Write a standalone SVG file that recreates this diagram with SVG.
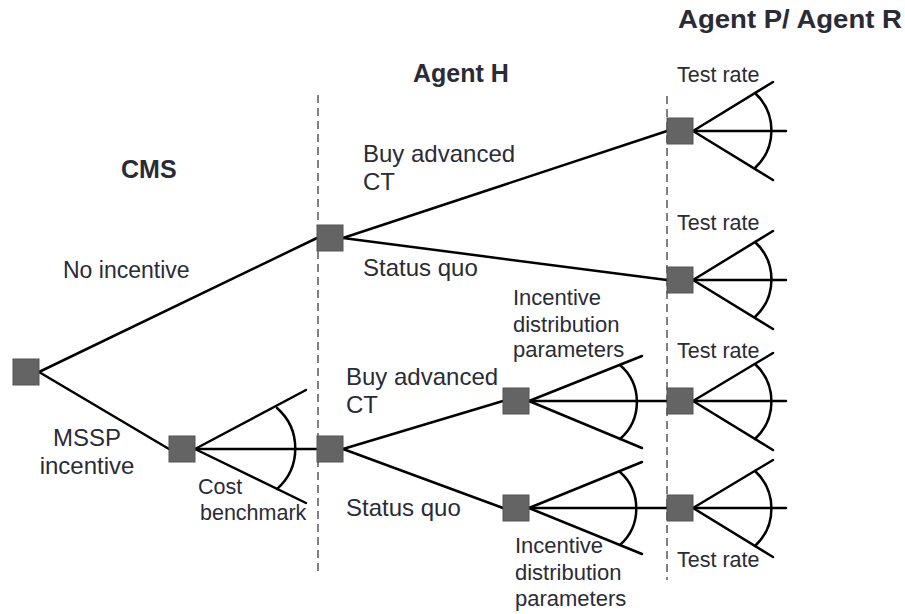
<svg xmlns="http://www.w3.org/2000/svg" width="905" height="614" viewBox="0 0 905 614">
  <style>
    text { font-family: "Liberation Sans", Arial, sans-serif; fill: #2b2b36; }
    .title { font-weight: bold; font-size: 25px; }
    .lbl { font-size: 24px; }
    .mid { font-size: 23px; }
    .sm { font-size: 22px; }
    .xs { font-size: 21.5px; }
    .node { fill: #646464; stroke: #545454; stroke-width: 1; }
    .edge { stroke: #000; stroke-width: 2.5; fill: none; stroke-linecap: round; }
    .div { stroke: #808080; stroke-width: 2; stroke-dasharray: 8 5; fill: none; }
  </style>
  <rect width="905" height="614" fill="#fff"/>

  <!-- stage dividers -->
  <g id="dividers">
    <line class="div" x1="318" y1="95" x2="318" y2="572"/>
    <line class="div" x1="667" y1="96" x2="667" y2="580"/>
  </g>

  <!-- stage titles -->
  <g id="titles">
    <text class="title" x="678" y="28" textLength="224" lengthAdjust="spacingAndGlyphs">Agent P/ Agent R</text>
    <text class="title" x="413" y="82">Agent H</text>
    <text class="title" x="121" y="178">CMS</text>
  </g>

  <g id="connectors">
    <!-- CMS decision -->
    <line class="edge" x1="39" y1="372" x2="317" y2="238"/>
    <line class="edge" x1="39" y1="372" x2="169" y2="449"/>
    <!-- cost benchmark fan -->
    <line class="edge" x1="195" y1="449" x2="306" y2="390"/>
    <line class="edge" x1="195" y1="449" x2="317" y2="449"/>
    <line class="edge" x1="195" y1="449" x2="306" y2="503"/>
    <path class="edge" d="M277,408 A54,54 0 0 1 277,489"/>
    <!-- Agent H, no incentive -->
    <line class="edge" x1="343" y1="238" x2="667" y2="131"/>
    <line class="edge" x1="343" y1="238" x2="667" y2="280"/>
    <!-- Agent H, MSSP incentive -->
    <line class="edge" x1="343" y1="449" x2="503" y2="401"/>
    <line class="edge" x1="343" y1="449" x2="503" y2="508"/>
    <!-- incentive distribution fans -->
    <line class="edge" x1="529" y1="401" x2="642" y2="356"/>
    <line class="edge" x1="529" y1="401" x2="667" y2="401"/>
    <line class="edge" x1="529" y1="401" x2="642" y2="448"/>
    <path class="edge" d="M620,365 A49,49 0 0 1 620,439"/>
    <line class="edge" x1="529" y1="508" x2="642" y2="462"/>
    <line class="edge" x1="529" y1="508" x2="667" y2="508"/>
    <line class="edge" x1="529" y1="508" x2="642" y2="554"/>
    <path class="edge" d="M620,472 A49,49 0 0 1 620,545"/>
    <!-- test rate fans -->
    <line class="edge" x1="693" y1="131" x2="773" y2="82"/>
    <line class="edge" x1="693" y1="131" x2="786" y2="131"/>
    <line class="edge" x1="693" y1="131" x2="773" y2="180"/>
    <path class="edge" d="M755,93 A51,51 0 0 1 755,168"/>
    <line class="edge" x1="693" y1="280" x2="773" y2="231"/>
    <line class="edge" x1="693" y1="280" x2="786" y2="280"/>
    <line class="edge" x1="693" y1="280" x2="773" y2="329"/>
    <path class="edge" d="M755,242 A51,51 0 0 1 755,317"/>
    <line class="edge" x1="693" y1="401" x2="773" y2="353"/>
    <line class="edge" x1="693" y1="401" x2="786" y2="401"/>
    <line class="edge" x1="693" y1="401" x2="773" y2="450"/>
    <path class="edge" d="M755,364 A51,51 0 0 1 755,439"/>
    <line class="edge" x1="693" y1="508" x2="773" y2="460"/>
    <line class="edge" x1="693" y1="508" x2="786" y2="508"/>
    <line class="edge" x1="693" y1="508" x2="773" y2="557"/>
    <path class="edge" d="M755,471 A51,51 0 0 1 755,546"/>
  </g>

  <g id="cms"><rect class="node" x="13" y="359" width="26" height="26"/></g>
  <g id="cost"><rect class="node" x="169" y="436" width="26" height="26"/></g>
  <g id="h-no-incentive"><rect class="node" x="317" y="225" width="26" height="26"/></g>
  <g id="h-mssp"><rect class="node" x="317" y="436" width="26" height="26"/></g>
  <g id="dist-buy"><rect class="node" x="503" y="388" width="26" height="26"/></g>
  <g id="dist-quo"><rect class="node" x="503" y="495" width="26" height="26"/></g>
  <g id="p1"><rect class="node" x="667" y="118" width="26" height="26"/></g>
  <g id="p2"><rect class="node" x="667" y="267" width="26" height="26"/></g>
  <g id="p3"><rect class="node" x="667" y="388" width="26" height="26"/></g>
  <g id="p4"><rect class="node" x="667" y="495" width="26" height="26"/></g>

  <g id="labels">
    <text class="mid" x="63" y="278">No incentive</text>
    <text class="lbl" x="87" y="446" text-anchor="middle">MSSP</text>
    <text class="lbl" x="87" y="474" text-anchor="middle">incentive</text>
    <text class="xs" x="198" y="494">Cost</text>
    <text class="xs" x="200" y="520">benchmark</text>

    <text class="lbl" x="363" y="162">Buy advanced</text>
    <text class="lbl" x="363" y="190">CT</text>
    <text class="lbl" x="363" y="276">Status quo</text>

    <text class="lbl" x="346" y="385">Buy advanced</text>
    <text class="lbl" x="346" y="413">CT</text>
    <text class="lbl" x="346" y="516">Status quo</text>

    <text class="sm" x="513" y="305">Incentive</text>
    <text class="sm" x="513" y="332">distribution</text>
    <text class="sm" x="513" y="357">parameters</text>

    <text class="sm" x="515" y="553">Incentive</text>
    <text class="sm" x="515" y="580">distribution</text>
    <text class="sm" x="515" y="606">parameters</text>

    <text class="xs" x="677" y="82">Test rate</text>
    <text class="xs" x="677" y="230">Test rate</text>
    <text class="xs" x="677" y="358">Test rate</text>
    <text class="xs" x="677" y="567">Test rate</text>
  </g>
</svg>
